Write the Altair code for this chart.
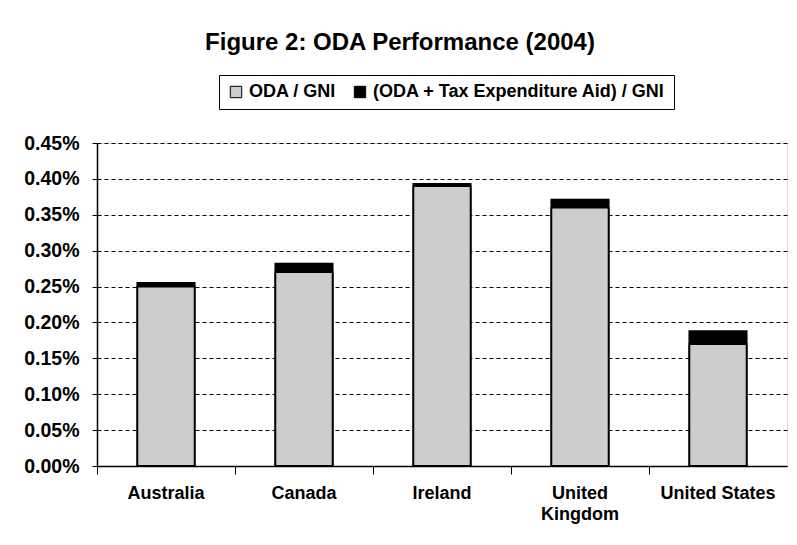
import altair as alt
import pandas as pd

countries = ["Australia", "Canada", "Ireland", "United Kingdom", "United States"]
oda_gni = [0.25, 0.27, 0.39, 0.36, 0.17]
oda_tax_gni = [0.255, 0.282, 0.393, 0.371, 0.188]
series_names = ["ODA / GNI", "(ODA + Tax Expenditure Aid) / GNI"]
y_ticks = [0.0, 0.05, 0.10, 0.15, 0.20, 0.25, 0.30, 0.35, 0.40, 0.45]
colors = ["#cdcdcd", "#000000"]

df = pd.DataFrame({
    "country": countries + countries,
    "series": [series_names[1]] * len(countries) + [series_names[0]] * len(countries),
    "value": oda_tax_gni + oda_gni,
})

FONT = "Liberation Sans"

x_enc = alt.X(
    "country:N",
    sort=countries,
    scale=alt.Scale(paddingInner=0, paddingOuter=0),
    axis=alt.Axis(
        title=None,
        labelAngle=0,
        bandPosition=0,
        tickSize=8,
        tickColor="black",
        domainColor="black",
        domainWidth=1.5,
        labelPadding=10,
        labelFontSize=18,
        labelFontWeight="bold",
        labelFont=FONT,
        labelColor="black",
        labelBaseline="top",
        labelLineHeight=21,
        labelLimit=300,
        labelExpr="datum.value == 'United Kingdom' ? ['United', 'Kingdom'] : datum.value",
        grid=False,
    ),
)
y_enc = alt.Y(
    "value:Q",
    scale=alt.Scale(domain=[0, 0.45], nice=False),
    axis=alt.Axis(
        title=None,
        values=y_ticks,
        labelExpr="format(datum.value, '.2f') + '%'",
        labelFontSize=19.5,
        labelFontWeight="bold",
        labelFont=FONT,
        labelColor="black",
        labelPadding=13,
        tickSize=5,
        tickColor="black",
        domainColor="black",
        domainWidth=1.5,
        grid=True,
        gridColor="black",
        gridDash=[4, 3],
        gridWidth=1,
    ),
)
color_enc = alt.Color(
    "series:N",
    scale=alt.Scale(domain=series_names, range=colors),
    legend=alt.Legend(
        title=None,
        orient="none",
        direction="horizontal",
        legendX=122,
        legendY=-68,
        strokeColor="black",
        padding=8,
        symbolType="square",
        symbolSize=130,
        symbolStrokeColor="black",
        symbolStrokeWidth=1,
        labelFontSize=18,
        labelFontWeight="bold",
        labelFont=FONT,
        labelColor="black",
        labelLimit=400,
        columnPadding=14,
        labelOffset=4,
    ),
)

base = alt.Chart(df)
total_bars = base.transform_filter(
    alt.datum.series == series_names[1]
).mark_bar(width=alt.RelativeBandSize(0.415), stroke="black", strokeWidth=1.8).encode(
    x=x_enc, y=y_enc, color=color_enc
)
oda_bars = base.transform_filter(
    alt.datum.series == series_names[0]
).mark_bar(width=alt.RelativeBandSize(0.415), stroke="black", strokeWidth=1.8).encode(
    x=x_enc, y=y_enc, color=color_enc
)

chart = alt.layer(total_bars, oda_bars).properties(
    width=690,
    height=323,
    autosize=alt.AutoSizeParams(type="none"),
    padding={"left": 89, "top": 135, "right": 2, "bottom": 60},
    title=alt.TitleParams(
        "Figure 2: ODA Performance (2004)",
        font=FONT,
        fontSize=24,
        fontWeight="bold",
        color="black",
        anchor="middle",
        dx=-42,
        offset=20,
    ),
).configure_view(stroke=None).configure(background="white")

chart.save("out.html", embed_options={"renderer": "svg", "actions": False})
